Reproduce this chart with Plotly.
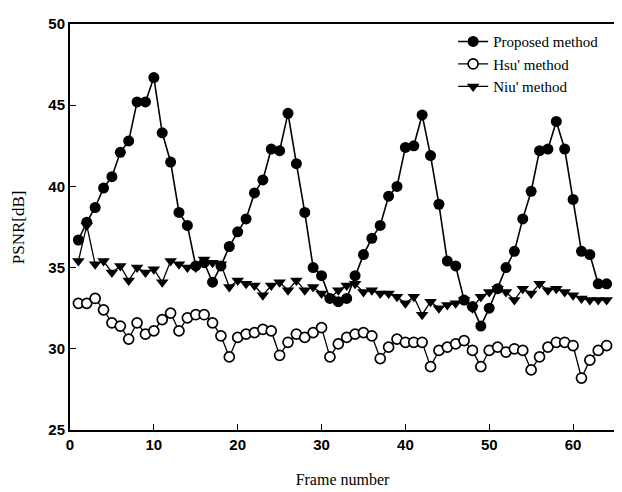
import plotly.graph_objects as go

frames = list(range(1, 65))

proposed = [36.7, 37.8, 38.7, 39.9, 40.6, 42.1, 42.8, 45.2, 45.2, 46.7,
            43.3, 41.5, 38.4, 37.6, 35.1, 35.3, 34.1, 35.1, 36.3, 37.2,
            38.0, 39.6, 40.4, 42.3, 42.2, 44.5, 41.4, 38.4, 35.0, 34.5,
            33.1, 32.9, 33.1, 34.5, 35.8, 36.8, 37.6, 39.4, 40.0, 42.4,
            42.5, 44.4, 41.9, 38.9, 35.4, 35.1, 33.0, 32.6, 31.4, 32.5,
            33.7, 35.0, 36.0, 38.0, 39.7, 42.2, 42.3, 44.0, 42.3, 39.2,
            36.0, 35.8, 34.0, 34.0]

hsu = [32.8, 32.8, 33.1, 32.4, 31.6, 31.4, 30.6, 31.6, 30.9, 31.1,
       31.8, 32.2, 31.1, 31.9, 32.1, 32.1, 31.6, 30.8, 29.5, 30.7,
       30.9, 31.0, 31.2, 31.1, 29.6, 30.4, 30.9, 30.7, 31.0, 31.3,
       29.5, 30.3, 30.7, 30.9, 31.0, 30.8, 29.4, 30.1, 30.6, 30.4,
       30.4, 30.4, 28.9, 29.9, 30.1, 30.3, 30.5, 29.9, 28.9, 29.9,
       30.1, 29.8, 30.0, 29.9, 28.7, 29.5, 30.1, 30.4, 30.4, 30.2,
       28.2, 29.3, 29.9, 30.2]

niu = [35.4, 37.6, 35.2, 35.4, 34.7, 35.1, 34.2, 35.0, 34.7, 34.9,
       34.1, 35.4, 35.2, 35.0, 35.0, 35.5, 35.3, 35.2, 33.8, 34.2,
       34.0, 33.9, 33.3, 33.9, 34.1, 33.6, 34.2, 33.6, 33.8, 33.4,
       33.1, 33.6, 33.9, 34.0, 33.5, 33.6, 33.4, 33.4, 33.2, 32.8,
       33.2, 32.1, 32.9, 32.5, 32.7, 32.8, 33.0, 32.5, 33.2, 33.5,
       33.7, 33.5, 33.0, 33.7, 33.4, 34.0, 33.6, 33.7, 33.5, 33.3,
       33.1, 33.0, 33.0, 33.0]

x_ticks = [0, 10, 20, 30, 40, 50, 60]
y_ticks = [25, 30, 35, 40, 45, 50]

serif = "Liberation Serif, Times New Roman, serif"
sans = "Liberation Sans, Arial, sans-serif"

fig = go.Figure()
fig.add_trace(go.Scatter(
    x=frames, y=proposed, mode="lines+markers", name="Proposed method",
    line=dict(color="black", width=1.6),
    marker=dict(symbol="circle", size=11, color="black"),
))
fig.add_trace(go.Scatter(
    x=frames, y=hsu, mode="lines+markers", name="Hsu' method",
    line=dict(color="black", width=1.3),
    marker=dict(symbol="circle", size=10, color="white",
                line=dict(color="black", width=1.7)),
))
fig.add_trace(go.Scatter(
    x=frames, y=niu, mode="lines+markers", name="Niu' method",
    line=dict(color="black", width=1.3),
    marker=dict(symbol="triangle-down", size=11, color="black"),
))

fig.update_layout(
    width=622, height=492,
    margin=dict(l=62, r=15, t=7, b=70),
    paper_bgcolor="white", plot_bgcolor="white",
    showlegend=True,
    legend=dict(x=0.703, y=0.997, xanchor="left", yanchor="top",
                bgcolor="rgba(0,0,0,0)", borderwidth=0,
                font=dict(family=serif, size=15, color="black"),
                tracegroupgap=0, itemsizing="trace"),
    xaxis=dict(
        range=[0, 65], tickvals=x_ticks, ticks="inside", ticklen=6,
        tickcolor="black", showgrid=False, zeroline=False,
        showline=True, linecolor="black", linewidth=2, mirror=True,
        tickfont=dict(family=sans, size=15, color="black", weight="bold"),
        title=dict(text="Frame number", font=dict(family=serif, size=16, color="black"),
                   standoff=22),
    ),
    yaxis=dict(
        range=[25, 50], tickvals=y_ticks, ticks="inside", ticklen=6,
        tickcolor="black", showgrid=False, zeroline=False,
        showline=True, linecolor="black", linewidth=2, mirror=True,
        tickfont=dict(family=sans, size=15, color="black", weight="bold"),
    ),
    annotations=[dict(
        text="PSNR[dB]", xref="paper", yref="paper", x=-0.095, y=0.5,
        xanchor="center", yanchor="middle", textangle=-90, showarrow=False,
        font=dict(family=serif, size=17, color="black"),
    )],
)

fig.write_html("out.html")
